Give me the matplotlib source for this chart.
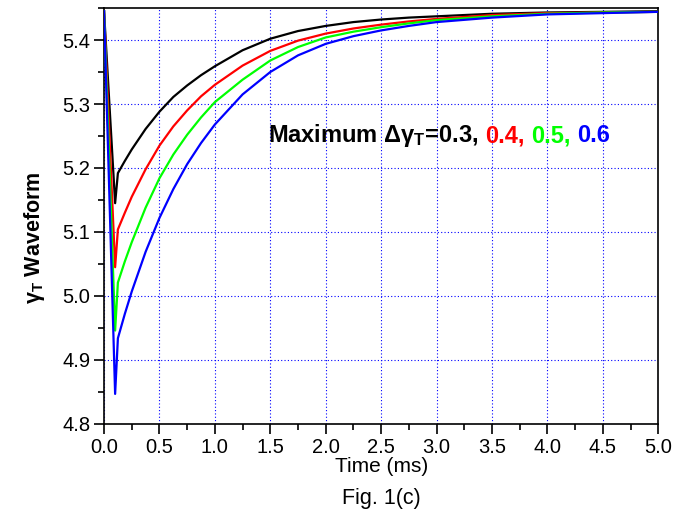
import numpy as np
import matplotlib
matplotlib.use('Agg')
from matplotlib import pyplot as plt
from matplotlib.ticker import MultipleLocator, FormatStrFormatter

plt.rcParams['font.family'] = ['Liberation Sans', 'DejaVu Sans']
plt.rcParams['mathtext.fontset'] = 'custom'
plt.rcParams['mathtext.rm'] = 'Liberation Sans:bold'
plt.rcParams['mathtext.it'] = 'Liberation Sans:bold:italic'
plt.rcParams['mathtext.bf'] = 'Liberation Sans:bold'

# time axis (ms)
t = [0.0, 0.1, 0.125, 0.1875, 0.25, 0.375, 0.5, 0.625, 0.75, 0.875, 1.0,
     1.25, 1.5, 1.75, 2.0, 2.25, 2.5, 2.75, 3.0, 3.5, 4.0, 4.5, 5.0]

# gamma_T waveforms for max delta = 0.3, 0.4, 0.5, 0.6
g03 = [5.445, 5.145, 5.192, 5.211, 5.229, 5.261, 5.288, 5.311, 5.329, 5.345, 5.359,
       5.384, 5.402, 5.414, 5.422, 5.428, 5.432, 5.435, 5.437, 5.441, 5.443, 5.444, 5.445]
g04 = [5.445, 5.045, 5.104, 5.130, 5.155, 5.198, 5.235, 5.265, 5.290, 5.312, 5.330,
       5.360, 5.383, 5.399, 5.410, 5.418, 5.424, 5.429, 5.433, 5.439, 5.442, 5.443, 5.444]
g05 = [5.445, 4.946, 5.021, 5.054, 5.084, 5.138, 5.184, 5.221, 5.252, 5.279, 5.303,
       5.338, 5.368, 5.389, 5.404, 5.413, 5.420, 5.426, 5.431, 5.437, 5.441, 5.443, 5.444]
g06 = [5.445, 4.847, 4.934, 4.972, 5.007, 5.069, 5.122, 5.167, 5.206, 5.239, 5.268,
       5.315, 5.350, 5.376, 5.394, 5.406, 5.415, 5.422, 5.428, 5.435, 5.440, 5.442, 5.444]

series = [g03, g04, g05, g06]
colors = ['black', '#ff0000', '#00ff00', '#0000ff']
labels = ['0.3,', '0.4,', '0.5,', '0.6']

fig = plt.figure(figsize=(6.8, 5.23), dpi=100)
ax = fig.add_axes([0.153, 0.1893, 0.815, 0.7954])

for s, c in zip(series, colors):
    ax.plot(t, s, color=c, lw=1.6, zorder=3)

ax.set_xlim(0, 5.0)
ax.set_ylim(4.8, 5.45)
ax.xaxis.set_major_locator(MultipleLocator(0.5))
ax.xaxis.set_minor_locator(MultipleLocator(0.25))
ax.yaxis.set_major_locator(MultipleLocator(0.1))
ax.yaxis.set_minor_locator(MultipleLocator(0.05))
ax.xaxis.set_major_formatter(FormatStrFormatter('%.1f'))
ax.yaxis.set_major_formatter(FormatStrFormatter('%.1f'))
ax.tick_params(which='both', direction='out', top=False, right=False, labelsize=14.5, width=1.2)
ax.tick_params(which='major', length=7, pad=3)
ax.tick_params(which='minor', length=4)
for sp in ax.spines.values():
    sp.set_linewidth(1.2)
ax.grid(True, which='major', color='#0000ff', ls=(0, (1, 2)), lw=0.8)

ax.set_xlabel('Time (ms)', fontsize=15, va='center')
ax.xaxis.set_label_coords(0.5, -0.103)
ax.set_ylabel(r'$\mathrm{\gamma}_\mathrm{T}$ Waveform', fontsize=15.5, fontweight='bold', va='center')
ax.yaxis.set_label_coords(-0.125, 0.447)
fig.text(0.561, 0.0478, 'Fig. 1(c)', ha='center', va='center', fontsize=15.5)

# multi-coloured annotation
fs = 17
fig.canvas.draw()
renderer = fig.canvas.get_renderer()
x0, y0 = ax.transData.transform((1.48, 5.2406))
gap = 0.278 * fs * fig.dpi / 72
pieces = [('Maximum $\\mathrm{\\Delta\\gamma}_\\mathrm{T}$=' + labels[0], colors[0])]
pieces += [(l, c) for l, c in zip(labels[1:], colors[1:])]
xpix = x0
for s, c in pieces:
    txt = fig.text(xpix / fig.dpi / 6.8, y0 / fig.dpi / 5.23, s, color=c, fontsize=fs,
                   fontweight='bold', va='baseline', ha='left')
    bb = txt.get_window_extent(renderer)
    xpix = bb.x1 + gap

fig.savefig('out.png', dpi=100)
